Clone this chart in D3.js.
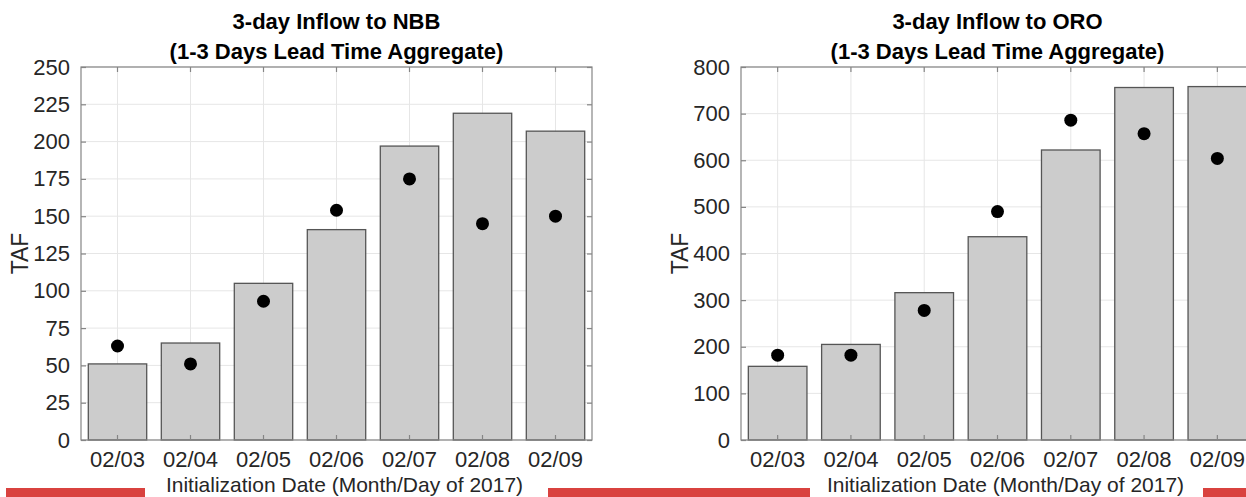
<!DOCTYPE html>
<html><head><meta charset="utf-8">
<script src="https://cdn.jsdelivr.net/npm/d3@7"></script>
<style>
body{margin:0;background:#fff;}
svg{display:block;}
text{font-family:"Liberation Sans",Arial,Helvetica,sans-serif;}
</style>
</head><body>
<svg id="c" width="1246" height="497"></svg>
<script>
const dates = ["02/03","02/04","02/05","02/06","02/07","02/08","02/09"];
const nbbBars = [51, 65, 105, 141, 197, 219, 207];
const nbbDots = [63, 51, 93, 154, 175, 145, 150];
const oroBars = [158, 205, 316, 436, 622, 756, 758];
const oroDots = [182, 182, 278, 490, 686, 657, 604];
const nbbTicks = [0, 25, 50, 75, 100, 125, 150, 175, 200, 225, 250];
const oroTicks = [0, 100, 200, 300, 400, 500, 600, 700, 800];
const titleLine1 = ["3-day Inflow to NBB", "3-day Inflow to ORO"];
const titleLine2 = "(1-3 Days Lead Time Aggregate)";
const yLabel = "TAF";
const xLabel = "Initialization Date (Month/Day of 2017)";

const svg = d3.select("#c");
const axisColor = "#858585";
const textColor = "#262626";
const gridColor = "#e6e6e6";

function panel(x0, x1, bars, dots, ticks, t1) {
  const yTop = 67, yBot = 440;
  const x = d3.scaleBand().domain(dates).range([x0, x1]).paddingInner(0.2).paddingOuter(0.1);
  const y = d3.scaleLinear().domain([0, ticks[ticks.length-1]]).range([yBot, yTop]);
  const g = svg.append("g");
  g.selectAll(".gy").data(ticks).join("line")
    .attr("x1", x0).attr("x2", x1).attr("y1", d => y(d)).attr("y2", d => y(d))
    .attr("stroke", gridColor).attr("stroke-width", 1);
  g.selectAll(".gx").data(dates).join("line")
    .attr("x1", d => x(d) + x.bandwidth()/2).attr("x2", d => x(d) + x.bandwidth()/2)
    .attr("y1", yTop).attr("y2", yBot)
    .attr("stroke", gridColor).attr("stroke-width", 1);
  g.selectAll(".bar").data(bars).join("rect")
    .attr("x", (d,i) => x(dates[i])).attr("width", x.bandwidth())
    .attr("y", d => y(d)).attr("height", d => yBot - y(d))
    .attr("fill", "#cccccc").attr("stroke", "#555555").attr("stroke-width", 1.3);
  g.selectAll(".dot").data(dots).join("circle")
    .attr("cx", (d,i) => x(dates[i]) + x.bandwidth()/2).attr("cy", d => y(d))
    .attr("r", 6.5).attr("fill", "#000");
  g.append("rect").attr("x", x0).attr("y", yTop).attr("width", x1 - x0).attr("height", yBot - yTop)
    .attr("fill", "none").attr("stroke", axisColor).attr("stroke-width", 1.2);
  const tl = 5;
  const bottom = d3.axisBottom(x).tickSize(-tl).tickPadding(11).tickSizeOuter(0);
  const top = d3.axisTop(x).tickSize(-tl).tickFormat("").tickSizeOuter(0);
  const left = d3.axisLeft(y).tickValues(ticks).tickSize(-tl).tickPadding(11).tickSizeOuter(0);
  const right = d3.axisRight(y).tickValues(ticks).tickSize(-tl).tickFormat("").tickSizeOuter(0);
  [ [bottom, `translate(0,${yBot})`], [top, `translate(0,${yTop})`],
    [left, `translate(${x0},0)`], [right, `translate(${x1},0)`] ].forEach(([ax, tr]) => {
    const a = g.append("g").attr("transform", tr).call(ax);
    a.select(".domain").remove();
    a.selectAll("line").attr("stroke", axisColor).attr("stroke-width", 1.2);
    a.selectAll("text").attr("fill", textColor).style("font-size", "22px")
      .style("font-family", '"Liberation Sans",Arial,Helvetica,sans-serif');
  });
  const cx = (x0 + x1) / 2;
  g.append("text").attr("x", cx).attr("y", 29).attr("text-anchor", "middle")
    .attr("fill", "#000").style("font-size", "22px").style("font-weight", "bold").text(t1);
  g.append("text").attr("x", cx).attr("y", 59).attr("text-anchor", "middle")
    .attr("fill", "#000").style("font-size", "22px").style("font-weight", "bold").text(titleLine2);
  g.append("text").attr("transform", `translate(${x0 - 53},${(yTop + yBot)/2}) rotate(-90)`)
    .attr("text-anchor", "middle").attr("fill", textColor).style("font-size", "23px").text(yLabel);
  g.append("text").attr("x", cx + 8).attr("y", 492).attr("text-anchor", "middle")
    .attr("fill", textColor).style("font-size", "21px").text(xLabel);
}

panel(81, 592, nbbBars, nbbDots, nbbTicks, titleLine1[0]);
panel(741, 1254, oroBars, oroDots, oroTicks, titleLine1[1]);

const bandSegs = [[6, 145], [548, 810], [1203, 1246]];
svg.selectAll(".band").data(bandSegs).join("rect")
  .attr("x", d => d[0]).attr("width", d => d[1] - d[0])
  .attr("y", 488).attr("height", 9).attr("fill", "#d9423f");
</script>
</body></html>
